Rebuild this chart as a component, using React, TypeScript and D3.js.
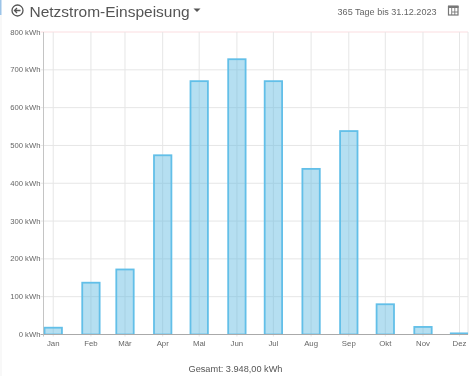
import React from "react";
import * as d3 from "d3";

const months = ["Jan","Feb","Mär","Apr","Mai","Jun","Jul","Aug","Sep","Okt","Nov","Dez"];
const values = [18,137,172,474,670,728,670,438,538,80,20,3];
const yTicks = [0,100,200,300,400,500,600,700,800];
const title = "Netzstrom-Einspeisung";
const rangeLabel = "365 Tage bis 31.12.2023";
const totalLabel = "Gesamt: 3.948,00 kWh";

const W = 470, H = 376;
const L = 43.5, R = 468, T = 32, B = 334.5;
const FONT = "'Liberation Sans', Arial, sans-serif";

export default function App() {
  const dates = months.map((_, i) => new Date(2023, i, 1));
  const x = d3.scaleTime().domain([new Date(2022, 11, 24), new Date(2023, 11, 8)]).range([L, R]);
  const y = d3.scaleLinear().domain([0, 800]).range([B, T]);
  const bw = 17.4;
  return (
    <svg width={W} height={H} viewBox={`0 0 ${W} ${H}`}
      style={{ position: "fixed", left: 0, top: 0, background: "#fff", filter: "blur(0.4px)" }}>
      <defs>
        <clipPath id="plot"><rect x={L} y={T} width={R - L} height={B - T} /></clipPath>
      </defs>
      <rect x={0} y={0} width={1.5} height={15} fill="#9cc4e8" />
      <rect x={0.5} y={15} width={1} height={H - 15} fill="#f2f2f2" />

      {/* back icon */}
      <g stroke="#555" fill="none" strokeWidth={1.3}>
        <circle cx={17.5} cy={10.5} r={5.5} />
        <path d="M20.5 10.5H14.5M17 8L14.5 10.5L17 13" />
      </g>
      <text x={29.5} y={16.5} fontFamily={FONT} fontSize={15.5} fill="#555">{title}</text>
      <path d="M193.5 8.5h7l-3.5 3.5z" fill="#555" />
      <text x={436.5} y={14.5} textAnchor="end" fontFamily={FONT} fontSize={9.05} fill="#666">{rangeLabel}</text>
      {/* calendar icon */}
      <g>
        <rect x={448.5} y={6.5} width={9.5} height={8.5} fill="none" stroke="#777" strokeWidth={1.2} />
        <rect x={448} y={5.5} width={10.5} height={2.5} fill="#777" />
        <path d="M451.7 8V15M454.8 8V15M452 12H458" stroke="#777" strokeWidth={0.9} />
      </g>

      {/* grid */}
      {yTicks.map(t => (
        <line key={t} x1={L - 3} x2={R} y1={y(t)} y2={y(t)}
          stroke={t === 800 ? "#fbdde0" : t === 0 ? "#aaa" : "#e6e6e6"} strokeWidth={1} />
      ))}
      {dates.map((d, i) => (
        <line key={i} x1={x(d)} x2={x(d)} y1={T} y2={B + 2} stroke="#e6e6e6" strokeWidth={1} />
      ))}
      <line x1={R} x2={R} y1={T} y2={B} stroke="#e6e6e6" />
      <line x1={L} x2={L} y1={T} y2={B + 2} stroke="#c4c4c4" />

      {/* bars */}
      <g clipPath="url(#plot)">
        {values.map((v, i) => (
          <rect key={i} x={x(dates[i]) - bw / 2} y={y(v)} width={bw} height={B - y(v)}
            fill="rgba(92,184,224,0.45)" stroke="#62bfe8" strokeWidth={1.8} />
        ))}
      </g>
      <line x1={L} x2={R} y1={B} y2={B} stroke="#aaa" strokeWidth={1} />

      {/* tick labels */}
      {yTicks.map(t => (
        <text key={t} x={40.5} y={y(t) + 2.5} textAnchor="end" fontFamily={FONT} fontSize={7.7} fill="#666">{`${t} kWh`}</text>
      ))}
      {months.map((m, i) => (
        <text key={m} x={x(dates[i])} y={345.5} textAnchor="middle" fontFamily={FONT} fontSize={7.8} fill="#666">{m}</text>
      ))}
      <text x={235.5} y={371.5} textAnchor="middle" fontFamily={FONT} fontSize={9.2} fill="#555">{totalLabel}</text>
    </svg>
  );
}
